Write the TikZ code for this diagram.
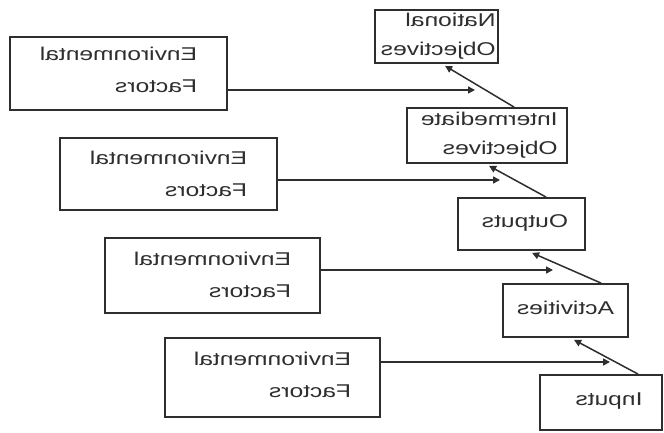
\documentclass[tikz,border=0pt]{standalone}
\usepackage{fontspec}
\setmainfont{Liberation Sans}
\usepackage{graphicx}
\usetikzlibrary{arrows.meta,calc}
\definecolor{ink}{HTML}{2E2E2E}
\newcommand{\mirtxt}[2]{\scalebox{-1.33}[1]{\fontsize{18.5}{24}\selectfont\begin{tabular}{@{}l@{}}#1\\[#2]\end{tabular}}}
\newcommand{\mirtwo}[3]{\scalebox{-1.33}[1]{\fontsize{18.5}{24}\selectfont\begin{tabular}{@{}l@{}}#1\\[#3]#2\end{tabular}}}
\begin{document}
\begin{tikzpicture}[x=1pt,y=-1pt,
  box/.style={draw=ink,line width=1.8pt,rectangle,inner sep=0pt},
  lab/.style={inner sep=0pt,text=ink},
  conn/.style={draw=ink,line width=1.5pt,-{Triangle[length=7pt,width=7pt]}}]
\useasboundingbox (0,0) rectangle (664,432);
\fill[white] (0,0) rectangle (664,432);
% main chain boxes
\node[box,minimum width=123pt,minimum height=53pt] (nat) at (436.5,36.5) {};
\node[lab,anchor=east] (natt) at ($(nat.east)+(-3,0)$) {\mirtwo{National}{Objectives}{5pt}};
\node[box,minimum width=160pt,minimum height=55pt] (int) at (487,135.5) {};
\node[lab,anchor=east] (intt) at ($(int.east)+(-10,0)$) {\mirtwo{Intermediate}{Objectives}{5pt}};
\node[box,minimum width=127pt,minimum height=52pt] (out) at (521.5,224) {};
\node[lab] (outt) at (525,223) {\mirtxt{Outputs}{0pt}};
\node[box,minimum width=125pt,minimum height=53pt] (act) at (565.5,310.5) {};
\node[lab] (actt) at (565.5,310) {\mirtxt{Activities}{0pt}};
\node[box,minimum width=122pt,minimum height=55pt] (inp) at (601,402.5) {};
\node[lab] (inpt) at (609,401) {\mirtxt{Inputs}{0pt}};
% environmental factor boxes
\node[box,minimum width=217pt,minimum height=73pt] (env1) at (118.5,73.5) {};
\node[lab] (env1t) at (118.5,72) {\mirtwo{Environmental}{Factors}{8pt}};
\node[box,minimum width=217pt,minimum height=72pt] (env2) at (168.5,174) {};
\node[lab] (env2t) at (168.5,176) {\mirtwo{Environmental}{Factors}{8pt}};
\node[box,minimum width=215pt,minimum height=75pt] (env3) at (212.5,275.5) {};
\node[lab] (env3t) at (212.5,277) {\mirtwo{Environmental}{Factors}{8pt}};
\node[box,minimum width=215pt,minimum height=79pt] (env4) at (272.5,377.5) {};
\node[lab] (env4t) at (272.5,377) {\mirtwo{Environmental}{Factors}{8pt}};
% arrow end points near the diagonals
\coordinate (e1) at (475,90);
\coordinate (e2) at (500,180);
\coordinate (e3) at (553,270);
\coordinate (e4) at (610,362);
% horizontal connectors
\draw[conn] (env1.east |- e1) -- (e1);
\draw[conn] (env2.east |- e2) -- (e2);
\draw[conn] (env3.east |- e3) -- (e3);
\draw[conn] (env4.east |- e4) -- (e4);
% diagonal connectors
\draw[conn] ($(int.north west)+(108,0)$) -- ($(nat.south west)+(71,2)$);
\draw[conn] ($(out.north west)+(89,0)$) -- ($(int.south west)+(83,2)$);
\draw[conn] ($(act.north west)+(99,0)$) -- ($(out.south west)+(75,2)$);
\draw[conn] ($(inp.north west)+(99,0)$) -- ($(act.south west)+(72,2)$);
\end{tikzpicture}
\end{document}
